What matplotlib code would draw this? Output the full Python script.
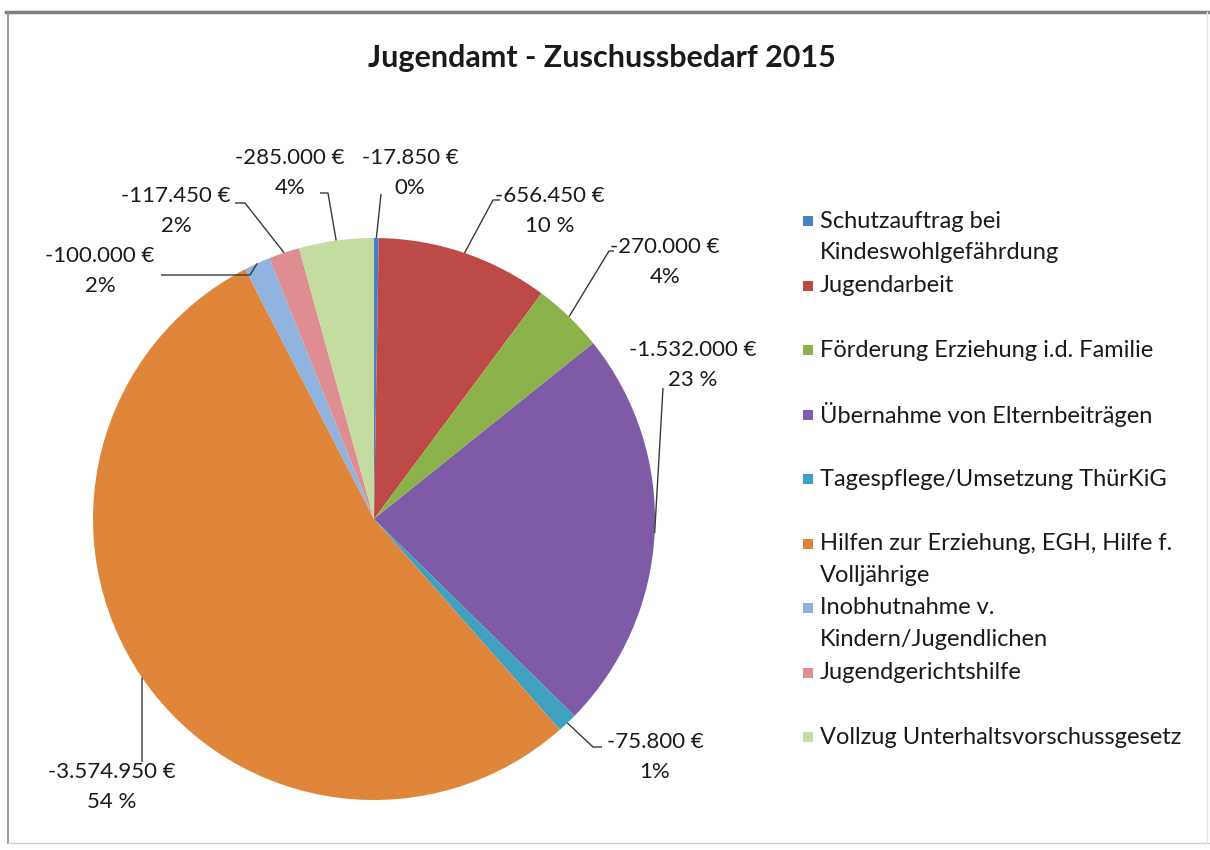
import matplotlib
matplotlib.use("Agg")
import numpy as np
import matplotlib.pyplot as plt
from matplotlib.patches import Rectangle

# ----------------------------------------------------------------------------
# Daten (Jugendamt - Zuschussbedarf 2015)
# ----------------------------------------------------------------------------
TITLE = "Jugendamt - Zuschussbedarf 2015"

categories = [
    "Schutzauftrag bei\nKindeswohlgefährdung",
    "Jugendarbeit",
    "Förderung Erziehung i.d. Familie",
    "Übernahme von Elternbeiträgen",
    "Tagespflege/Umsetzung ThürKiG",
    "Hilfen zur Erziehung, EGH, Hilfe f.\nVolljährige",
    "Inobhutnahme v.\nKindern/Jugendlichen",
    "Jugendgerichtshilfe",
    "Vollzug Unterhaltsvorschussgesetz",
]
values = [-17850, -656450, -270000, -1532000, -75800, -3574950, -100000, -117450, -285000]
pct_labels = ["0%", "10 %", "4%", "23 %", "1%", "54 %", "2%", "2%", "4%"]

colors = ["#4A7EC4", "#BE4A47", "#8CB24C", "#7D5BA6", "#3FA0C0",
          "#E0863B", "#8FB2DE", "#DE8E92", "#C4DC9F"]

# Layout in Pixel (y von oben), wird unten umgerechnet
W, H = 1210, 850
CENTER = (374, 519)
RADIUS = 281
# Textposition (x-Mitte, y erste Zeile) und Knickpunkte der Führungslinie
label_pos = [(410, 158), (550, 196), (665, 247), (693, 350), (655, 742),
             (112, 772), (100, 256), (176, 196), (290, 158)]
leader_pts = [
    [(381, 194)],
    [(493, 200), (500, 200)],
    [(609, 251), (614, 251)],
    [(663, 388)],
    [(593, 747), (602, 747)],
    [(142, 762)],
    [(250, 275), (161, 275)],
    [(245, 203), (235, 203)],
    [(328, 193), (320, 193)],
]

FONT = ["Lato", "DejaVu Sans"]
TXT = "#1a1a1a"


def fy(y):
    return H - y


def fmt_eur(v):
    return f"{v:,}".replace(",", ".") + " €"


def main():
    fig = plt.figure(figsize=(W / 100, H / 100), dpi=100)
    ax = fig.add_axes([0, 0, 1, 1])

    wedges, _ = ax.pie(
        [abs(v) for v in values],
        colors=colors,
        startangle=90,
        counterclock=False,
        center=(CENTER[0], fy(CENTER[1])),
        radius=RADIUS,
        wedgeprops=dict(linewidth=0),
    )
    ax.set_xlim(0, W)
    ax.set_ylim(0, H)
    ax.set_aspect("equal")
    ax.axis("off")

    # Datenbeschriftungen mit Führungslinien
    for w, v, p, pos, pts in zip(wedges, values, pct_labels, label_pos, leader_pts):
        mid = np.deg2rad((w.theta1 + w.theta2) / 2)
        ax_ = w.center[0] + RADIUS * np.cos(mid)
        ay_ = w.center[1] + RADIUS * np.sin(mid)
        xs = [ax_] + [q[0] for q in pts]
        ys = [ay_] + [fy(q[1]) for q in pts]
        ax.plot(xs, ys, color="#3a3a3a", lw=1.0, solid_capstyle="butt")
        ax.text(pos[0], fy(pos[1]), fmt_eur(v), ha="center", va="center",
                fontsize=16, family=FONT, color=TXT)
        ax.text(pos[0], fy(pos[1] + 30), p, ha="center", va="center",
                fontsize=16, family=FONT, color=TXT)

    # Legende (manuell, wie in Excel)
    for i, (name, c) in enumerate(zip(categories, colors)):
        y0 = 221 + i * 64.5
        ax.add_patch(Rectangle((803, fy(y0) - 5), 10, 10, color=c, lw=0))
        for j, line in enumerate(name.split("\n")):
            ax.text(820, fy(y0 + j * 31.5), line, ha="left", va="center",
                    fontsize=17, family=FONT, color=TXT)

    ax.text(602, fy(58), TITLE, ha="center", va="center", fontsize=22,
            fontweight="bold", family=FONT, color=TXT)

    # Rahmen
    ax.plot([6, W], [fy(12), fy(12)], color="#7f7f7f", lw=2.5)
    ax.plot([8, 8], [fy(12), fy(843)], color="#8a8a8a", lw=1.2)
    ax.plot([8, W], [fy(843), fy(843)], color="#d0d0d0", lw=1.0)
    ax.plot([1207, 1207], [fy(12), fy(843)], color="#e6e6e6", lw=1.0)

    fig.savefig("out.png", dpi=100, facecolor="white")


if __name__ == "__main__":
    main()
